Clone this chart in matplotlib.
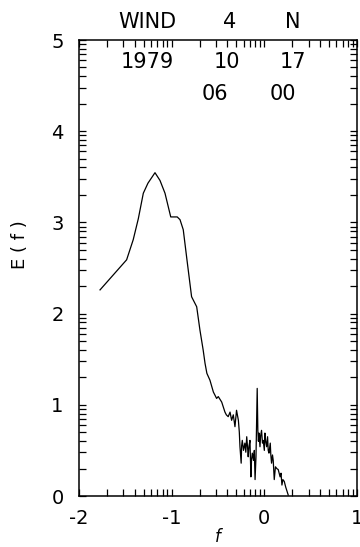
import numpy as np
import matplotlib
matplotlib.use("Agg")
import matplotlib.pyplot as plt
from matplotlib.ticker import FixedLocator, FuncFormatter

# spectrum (x = log10 frequency, y = E(f))
x_vals = [-1.773, -1.486, -1.415, -1.36, -1.306, -1.256, -1.18, -1.126, -1.072,
          -1.01, -0.94, -0.91, -0.875, -0.835, -0.785, -0.73, -0.695, -0.66,
          -0.64, -0.62, -0.587, -0.55, -0.515, -0.497, -0.46, -0.425, -0.41,
          -0.39, -0.37, -0.353, -0.335, -0.317, -0.30, -0.28, -0.27, -0.263,
          -0.25, -0.245, -0.238, -0.225, -0.21, -0.20, -0.19, -0.18, -0.174,
          -0.165, -0.155, -0.145, -0.138, -0.13, -0.117, -0.108, -0.10,
          -0.09, -0.077, -0.07, -0.064, -0.058, -0.047, -0.04, -0.03, -0.02,
          -0.012, 0.0, 0.006, 0.015, 0.025, 0.035, 0.042, 0.05, 0.064, 0.07,
          0.078, 0.088, 0.096, 0.107, 0.12, 0.135, 0.15, 0.17, 0.18, 0.19,
          0.2, 0.215, 0.23, 0.258]
e_vals = [2.26, 2.59, 2.81, 3.04, 3.32, 3.43, 3.545, 3.46, 3.32,
          3.06, 3.06, 3.03, 2.92, 2.59, 2.185, 2.075, 1.82, 1.60,
          1.455, 1.345, 1.27, 1.14, 1.07, 1.09, 1.03, 0.92, 0.89,
          0.87, 0.92, 0.83, 0.89, 0.76, 0.94, 0.83, 0.70, 0.54,
          0.36, 0.55, 0.61, 0.50, 0.58, 0.48, 0.65, 0.52, 0.43,
          0.55, 0.61, 0.21, 0.40, 0.47, 0.39, 0.50, 0.18,
          0.43, 1.18, 0.72, 0.60, 0.69, 0.54, 0.66, 0.72, 0.58,
          0.61, 0.50, 0.69, 0.60, 0.54, 0.65, 0.50, 0.47, 0.58, 0.45,
          0.36, 0.45, 0.39, 0.18, 0.32, 0.30, 0.29, 0.21, 0.25, 0.12,
          0.18, 0.16, 0.10, 0.01]

x_ticks = [-2, -1, 0, 1]
y_ticks = [0, 1, 2, 3, 4, 5]

fig = plt.figure(figsize=(3.6, 5.47), dpi=100)
ax = fig.add_axes([79 / 360, 51 / 547, 278 / 360, 456 / 547])

ax.plot(x_vals, e_vals, color="black", linewidth=0.9)

ax.set_xlim(-2, 1)
ax.set_ylim(0, 5)

# log-style minor ticks inside each unit
def log_minor(lo, hi):
    out = []
    for n in range(lo, hi):
        for k in range(2, 10):
            out.append(n + np.log10(k))
    return out

ax.xaxis.set_major_locator(FixedLocator(x_ticks))
ax.yaxis.set_major_locator(FixedLocator(y_ticks))
ax.xaxis.set_minor_locator(FixedLocator(log_minor(-2, 1)))
ax.yaxis.set_minor_locator(FixedLocator(log_minor(0, 5)))
fmt = FuncFormatter(lambda v, p: "%d" % v)
ax.xaxis.set_major_formatter(fmt)
ax.yaxis.set_major_formatter(fmt)

ax.tick_params(which="both", direction="in", top=True, right=True,
               length=5, width=0.9, labelsize=14)
ax.tick_params(axis="x", pad=9)
ax.tick_params(axis="y", pad=11)
for s in ax.spines.values():
    s.set_linewidth(1.1)

ax.set_xlabel("f", fontsize=12, style="italic", labelpad=0)
fig.text(20 / 360, 1 - 245 / 547, "E ( f )", rotation=90, fontsize=13,
         ha="center", va="center")

# header texts
hs = 15
fig.text(147 / 360, 1 - 22 / 547, "WIND", fontsize=hs, ha="center", va="center")
fig.text(230 / 360, 1 - 22 / 547, "4", fontsize=hs, ha="center", va="center")
fig.text(293 / 360, 1 - 22 / 547, "N", fontsize=hs, ha="center", va="center")
fig.text(147 / 360, 1 - 62 / 547, "1979", fontsize=hs, ha="center", va="center")
fig.text(227 / 360, 1 - 62 / 547, "10", fontsize=hs, ha="center", va="center")
fig.text(293 / 360, 1 - 62 / 547, "17", fontsize=hs, ha="center", va="center")
fig.text(215 / 360, 1 - 94 / 547, "06", fontsize=hs, ha="center", va="center")
fig.text(283 / 360, 1 - 94 / 547, "00", fontsize=hs, ha="center", va="center")

fig.savefig("out.png", dpi=100)
